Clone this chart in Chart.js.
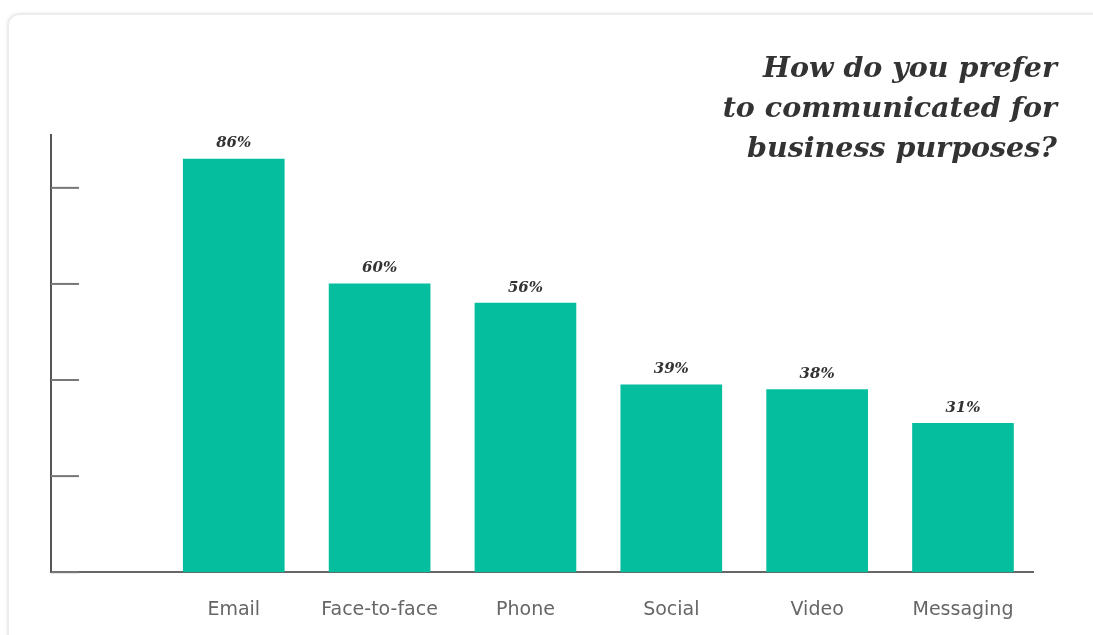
<!DOCTYPE html>
<html>
<head>
<meta charset="utf-8">
<script src="https://cdn.jsdelivr.net/npm/chart.js@4"></script>
<style>
  html, body { margin: 0; padding: 0; background: #fff; }
  body { width: 1093px; height: 635px; position: relative; overflow: hidden; }
  .card {
    position: absolute; left: 7px; top: 13px; width: 1100px; height: 640px;
    border: 2px solid #ececec; border-radius: 12px;
    box-shadow: 0 0 4px rgba(0,0,0,0.06);
  }
  .title {
    position: absolute; right: 36px; top: 47px;
    font-family: "DejaVu Serif", serif; font-weight: bold; font-style: italic;
    font-size: 28.5px; line-height: 40px; color: #333; text-align: right;
  }
  #wrap { position: absolute; left: 0; top: 0; width: 1093px; height: 655px; }
</style>
</head>
<body>
<div class="card"></div>
<div id="wrap"><canvas id="chart"></canvas></div>
<div class="title">How do you prefer<br>to communicated for<br>business purposes?</div>
<script>
// data
var categories = ['Email', 'Face-to-face', 'Phone', 'Social', 'Video', 'Messaging'];
var shares = [86, 60, 56, 39, 38, 31];
var yTicks = [0, 20, 40, 60, 80];

var barColor = '#04be9e';

// short tick marks on the inner side of the y axis
var innerTicks = {
    id: 'innerTicks',
    afterDatasetsDraw: function (chart) {
        var ctx = chart.ctx;
        var y = chart.scales.y;
        ctx.save();
        ctx.strokeStyle = '#777';
        ctx.lineWidth = 2;
        yTicks.forEach(function (v) {
            var py = y.getPixelForValue(v);
            ctx.beginPath();
            ctx.moveTo(chart.chartArea.left, py);
            ctx.lineTo(chart.chartArea.left + 28, py);
            ctx.stroke();
        });
        ctx.restore();
    }
};

// percentage labels above the bars
var valueLabels = {
    id: 'valueLabels',
    afterDatasetsDraw: function (chart) {
        var ctx = chart.ctx;
        var meta = chart.getDatasetMeta(0);
        ctx.save();
        ctx.font = 'italic bold 15px "DejaVu Serif", serif';
        ctx.fillStyle = '#333';
        ctx.textAlign = 'center';
        ctx.textBaseline = 'bottom';
        meta.data.forEach(function (bar, i) {
            ctx.fillText(shares[i] + '%', bar.x, bar.y - 8);
        });
        ctx.restore();
    }
};

var ctx = document.getElementById('chart').getContext('2d');
var chart = new Chart(ctx, {
    type: 'bar',
    data: {
        datasets: [{
            data: shares.map(function (v, i) { return { x: i, y: v }; }),
            backgroundColor: barColor,
            borderWidth: 0,
            barThickness: 101
        }]
    },
    options: {
        responsive: true,
        maintainAspectRatio: false,
        animation: false,
        layout: { padding: { left: 51, right: 60, top: 135, bottom: 8 } },
        scales: {
            x: {
                type: 'linear',
                offset: false,
                min: -1.253,
                max: 5.48,
                grid: { display: false, drawTicks: false },
                border: { color: '#666', width: 2 },
                ticks: {
                    stepSize: 1,
                    autoSkip: false,
                    maxRotation: 0,
                    minRotation: 0,
                    padding: 26,
                    color: '#666',
                    font: { family: 'DejaVu Sans', size: 19 },
                    callback: function (value) {
                        return categories[value] !== undefined ? categories[value] : '';
                    }
                }
            },
            y: {
                min: 0,
                max: 91,
                grid: { display: false, drawTicks: false },
                border: { color: '#555', width: 2 },
                ticks: { display: false, stepSize: 20 }
            }
        },
        plugins: {
            legend: { display: false },
            title: { display: false },
            tooltip: { enabled: false }
        }
    },
    plugins: [innerTicks, valueLabels]
});
</script>
</body>
</html>
